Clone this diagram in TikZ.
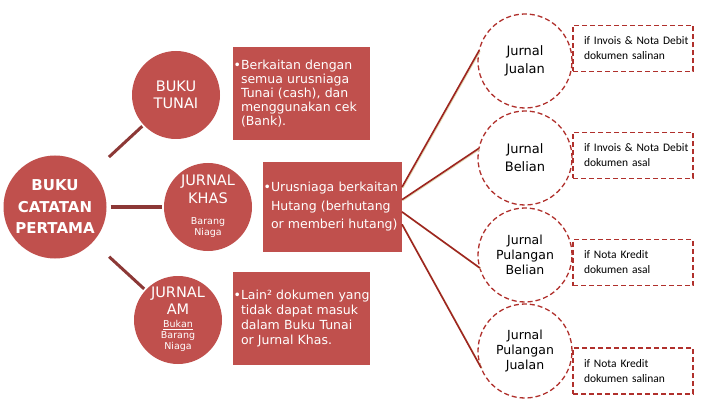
\documentclass[tikz,border=0pt]{standalone}
\usepackage{fontspec}
\setmainfont{DejaVu Sans}
\newfontfamily\notefont{Carlito}
\usepackage{xcolor}

\definecolor{accent}{HTML}{C0504D}
\definecolor{stemred}{HTML}{8C3836}
\definecolor{dashred}{HTML}{B0302C}
\definecolor{branchred}{HTML}{9E2520}
\definecolor{shade}{HTML}{E2DCB8}

\newcommand{\subtxt}[1]{{\fontsize{9.5}{11}\selectfont\begin{tabular}[t]{@{}c@{}}#1\end{tabular}}}

\tikzset{
  filled/.style={circle, fill=accent, text=white, inner sep=0pt, outer sep=0pt, align=center},
  maincirc/.style={filled, minimum size=103pt, font=\fontsize{15}{21.5}\selectfont\bfseries},
  catcirc/.style={filled, minimum size=88pt, font=\fontsize{14.5}{17.5}\selectfont},
  infobox/.style={rectangle, fill=accent, text=white, inner xsep=8pt, inner ysep=0pt,
    outer sep=0pt, text width=121pt, minimum height=93pt, align=left},
  stem/.style={draw=stemred, line width=3pt},
  dashline/.style={dash pattern=on 5pt off 3pt, line width=1.3pt},
  jnlcirc/.style={circle, draw=dashred, dashline, inner sep=0pt, outer sep=0pt,
    minimum size=94pt, align=center},
  notebox/.style={rectangle, draw=dashred, dashline, inner xsep=11pt, inner ysep=0pt,
    outer sep=0pt, text width=98pt, minimum height=46pt, align=left,
    font=\notefont\fontsize{11.5}{15}\selectfont},
  branch/.style={draw=branchred, line width=1.6pt,
    preaction={draw=shade, line width=1.6pt, transform canvas={shift={(0.7pt,-0.7pt)}}}}
}

\begin{document}
\begin{tikzpicture}[x=1pt, y=-1pt]
  % page
  \fill[white] (0,0) rectangle (709,406);
  \useasboundingbox (0,0) rectangle (709,406);

  % left part: main book and its three journals
  \node[maincirc] (bcp) at (55,207) {BUKU\\CATATAN\\PERTAMA};
  \node[catcirc] (bt) at (176,95) {BUKU\\TUNAI};
  \node[catcirc] (jk) at (208,207) {JURNAL\\KHAS\\[3.5pt]\subtxt{Barang\\Niaga}};
  \node[catcirc] (ja) at (178,320) {JURNAL\\AM\\[-4.5pt]\subtxt{\underline{Bukan}\\Barang\\Niaga}};

  \draw[stem, shorten <=22pt, shorten >=2pt] (bcp) -- (bt);
  \draw[stem, shorten <=4pt, shorten >=2pt] (bcp) -- (jk);
  \draw[stem, shorten <=22pt, shorten >=2pt] (bcp) -- (ja);

  % explanation boxes
  \node[infobox, font=\fontsize{12.5}{14}\selectfont] (btbox) at (301.5,93.5)
    {\llap{\textbullet}Berkaitan dengan\\semua urusniaga\\Tunai (cash), dan\\menggunakan cek\\(Bank).};
  \node[infobox, text width=123pt, minimum height=90pt, font=\fontsize{12.5}{18.5}\selectfont] (jkbox) at (332.5,207)
    {\llap{\textbullet}\mbox{Urusniaga berkaitan}\\\mbox{Hutang (berhutang}\\\mbox{or memberi hutang)}};
  \node[infobox, font=\fontsize{12.5}{15}\selectfont] (jabox) at (301.5,318.5)
    {\llap{\textbullet}\mbox{Lain² dokumen yang}\\tidak dapat masuk\\dalam Buku Tunai\\or Jurnal Khas.};

  % special journals
  \node[jnlcirc, font=\fontsize{13}{18}\selectfont] (jj) at (525,61) {Jurnal\\Jualan};
  \node[jnlcirc, font=\fontsize{13}{18}\selectfont] (jb) at (525,158) {Jurnal\\Belian};
  \node[jnlcirc, font=\fontsize{12.5}{15}\selectfont] (jpb) at (525,255) {Jurnal\\Pulangan\\Belian};
  \node[jnlcirc, font=\fontsize{12.5}{15}\selectfont] (jpj) at (525,351) {Jurnal\\Pulangan\\Jualan};

  \draw[branch] (jkbox.16) -- (jj.167);
  \draw[branch] (jkbox.6) -- (jb.168);
  \draw[branch] (jkbox.-4) -- (jpb.196);
  \draw[branch] (jkbox.-14) -- (jpj.201);

  % source documents
  \node[notebox] (jjnote) at (633,48.5) {\mbox{if Invois \& Nota Debit}\\dokumen salinan};
  \node[notebox] (jbnote) at (633,155.5) {\mbox{if Invois \& Nota Debit}\\dokumen asal};
  \node[notebox] (jpbnote) at (633,262.5) {if Nota Kredit\\dokumen asal};
  \node[notebox] (jpjnote) at (633,371) {if Nota Kredit\\dokumen salinan};
\end{tikzpicture}
\end{document}
